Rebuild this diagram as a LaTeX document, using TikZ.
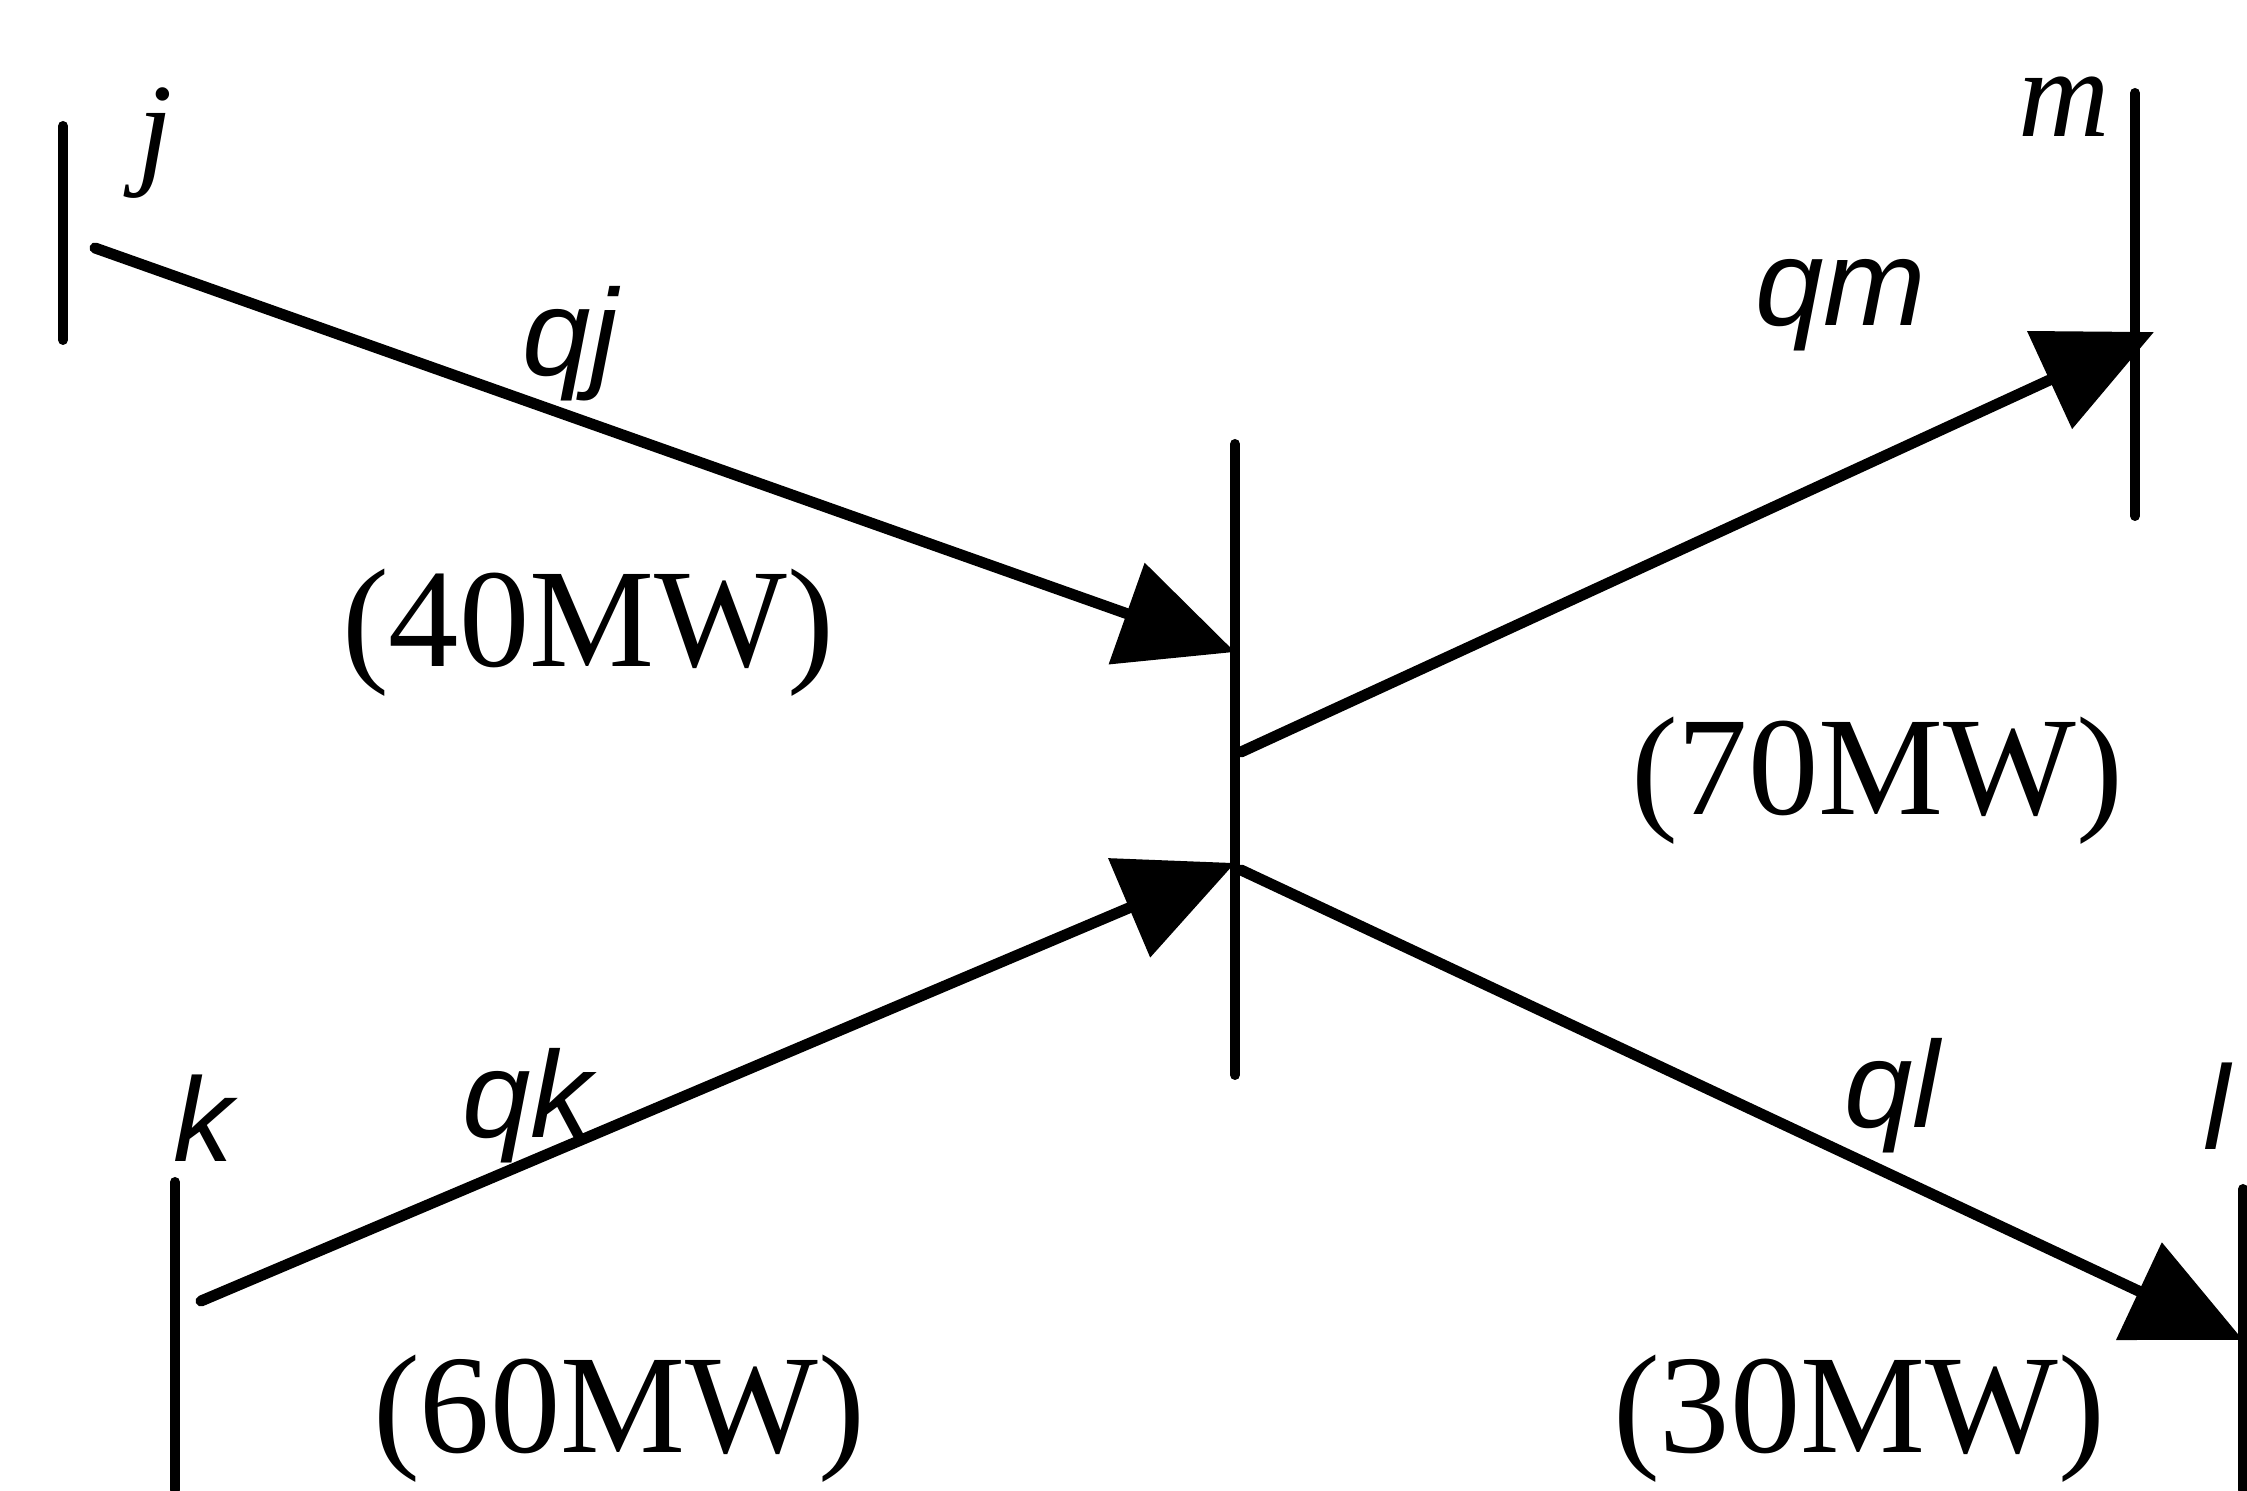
\documentclass[tikz,border=0pt]{standalone}
\usepackage{fontspec}
\setmainfont{Liberation Serif}
\newfontfamily\lblsans{Liberation Sans}
\usetikzlibrary{arrows.meta}
\begin{document}
\begin{tikzpicture}[x=1cm,y=1cm,
  busbar/.style={line width=0.1cm, line cap=round},
  flow/.style={line width=0.11cm, line cap=round, -{Triangle[length=1.15cm,width=1.05cm]}},
  mw/.style={font=\fontsize{40}{48}\selectfont, inner sep=0},
  qlab/.style={font=\lblsans\itshape\fontsize{35}{40}\selectfont, inner sep=0},
  blab/.style={font=\itshape\fontsize{36}{40}\selectfont, inner sep=0},
  slab/.style={font=\lblsans\itshape\fontsize{34}{40}\selectfont, inner sep=0}]
\useasboundingbox (0,0) rectangle (22.47,14.90);
% bus bars
\coordinate (jtop) at (0.63,13.64); \coordinate (jbot) at (0.63,11.50);
\coordinate (ctop) at (12.35,10.46); \coordinate (cbot) at (12.35,4.15);
\coordinate (mtop) at (21.35,13.97); \coordinate (mbot) at (21.35,9.74);
\coordinate (ktop) at (1.75,3.08); \coordinate (kbot) at (1.75,0);
\coordinate (ltop) at (22.43,3.01); \coordinate (lbot) at (22.43,0);
\draw[busbar] (jtop) -- (jbot);
\draw[busbar] (ctop) -- (cbot);
\draw[busbar] (mtop) -- (mbot);
\draw[busbar] (ktop) -- (kbot);
\draw[busbar] (ltop) -- (lbot);
% connection points
\coordinate (js) at (0.95,12.42); \coordinate (je) at (12.35,8.38);
\coordinate (ms) at (12.41,7.38); \coordinate (me) at (21.54,11.58);
\coordinate (ks) at (2.01,1.89);  \coordinate (ke) at (12.35,6.27);
\coordinate (ls) at (12.41,6.20); \coordinate (le) at (22.43,1.50);
\draw[flow] (js) -- (je);
\draw[flow] (ms) -- (me);
\draw[flow] (ks) -- (ke);
\draw[flow] (ls) -- (le);
% bus labels
\node[blab] (jl) at (1.55,13.47) {j};
\node[blab] (ml) at (20.64,13.83) {m};
\node[slab] (kl) at (2.03,3.72) {k};
\node[slab] (ll) at (22.17,3.84) {l};
% flow labels
\node[qlab] (qj) at (5.70,11.46) {qj};
\node[qlab] (qm) at (18.41,11.85) {qm};
\node[qlab] (qk) at (5.27,3.84) {qk};
\node[qlab] (ql) at (18.92,3.94) {ql};
\node[mw] (p40) at (5.88,8.57) {(40MW)};
\node[mw] (p70) at (18.77,7.09) {(70MW)};
\node[mw] (p60) at (6.19,0.71) {(60MW)};
\node[mw] (p30) at (18.59,0.71) {(30MW)};
\end{tikzpicture}
\end{document}
